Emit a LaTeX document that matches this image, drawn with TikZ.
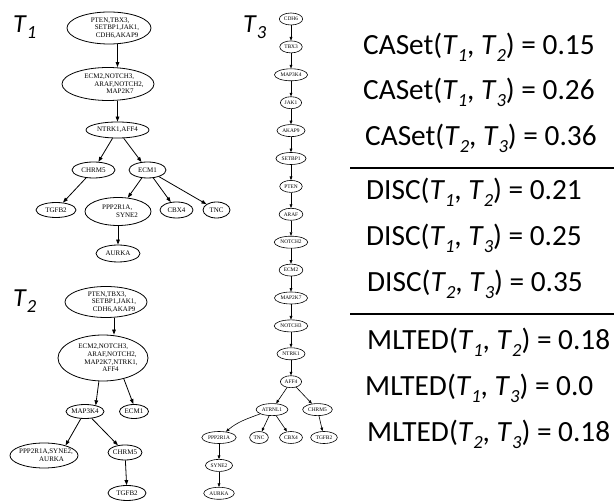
\documentclass[tikz,border=0pt]{standalone}
\usepackage{fontspec}
\setmainfont{Carlito}
\newfontfamily\treefont{Liberation Serif}
\usetikzlibrary{arrows.meta,shapes.geometric}
% italic tree name with a lowered italic index
\newcommand\Tn[1]{\textit{T}\raisebox{-0.22em}{\fontsize{18.5}{18.5}\selectfont\textit{#1}}}
\begin{document}
\begin{tikzpicture}[x=1pt,y=-1pt,
  gv/.style={ellipse,draw,line width=0.8pt,inner sep=0pt},
  ml/.style={align=left,inner sep=0pt,font=\treefont\fontsize{7}{7.6}\selectfont},
  sn/.style={ellipse,draw,line width=0.6pt,inner sep=1.2pt,minimum height=12pt,
             font=\treefont\fontsize{5.4}{5.4}\selectfont},
  ar/.style={-{Triangle[length=5pt,width=3.6pt]},line width=0.8pt},
  sar/.style={-{Triangle[length=3.6pt,width=2.8pt]},line width=0.6pt},
  tname/.style={anchor=base west,inner sep=0pt,font=\fontsize{26}{26}\selectfont},
  mt/.style={anchor=base west,inner sep=0pt,font=\fontsize{29.3}{29.3}\selectfont},
  rule/.style={line width=1.4pt}]
\useasboundingbox (0,0) rectangle (614,502);

% ---------------- tree T1 ----------------
\node[tname] (l1) at (13,33) {\Tn{1}};
\node[gv,minimum width=84,minimum height=32,
  label={[ml,xshift=6]center:{PTEN,TBX3,\\\hspace*{4pt}SETBP1,JAK1,\\\hspace*{5pt}CDH6,AKAP9}}] (r1) at (109,28) {};
\node[gv,minimum width=92,minimum height=33,
  label={[ml,xshift=6]center:{ECM2,NOTCH3,\\\hspace*{10pt}ARAF,NOTCH2,\\\hspace*{22pt}MAP2K7}}] (e1) at (108,84) {};
\node[gv,minimum width=63,minimum height=16,label={[ml]center:NTRK1,AFF4}] (n1) at (117.5,130) {};
\node[gv,minimum width=43,minimum height=16,label={[ml]center:CHRM5}] (c1) at (93.5,170) {};
\node[gv,minimum width=37,minimum height=16,label={[ml]center:ECM1}] (m1) at (147.5,170) {};
\node[gv,minimum width=40,minimum height=15,label={[ml]center:TGFB2}] (t1) at (56,210) {};
\node[gv,minimum width=66,minimum height=28,
  label={[ml,xshift=2]center:{PPP2R1A,\\\hspace*{14pt}SYNE2}}] (p1) at (118,211.5) {};
\node[gv,minimum width=33,minimum height=16,label={[ml]center:CBX4}] (b1) at (176.5,210) {};
\node[gv,minimum width=27,minimum height=16,label={[ml]center:TNC}] (x1) at (216.5,210) {};
\node[gv,minimum width=44,minimum height=17,label={[ml]center:AURKA}] (a1) at (118,253.5) {};

\draw[ar] (r1.south -| n1) -- (e1.north -| n1);
\draw[ar] (e1.south -| n1) -- (n1.north);
\draw[ar] (n1) -- (c1);
\draw[ar] (n1) -- (m1);
\draw[ar] (c1) -- (t1);
\draw[ar] (m1) -- (p1);
\draw[ar] (m1) -- (b1);
\draw[ar] (m1) -- (x1);
\draw[ar] (p1) -- (a1);

% ---------------- tree T2 ----------------
\node[tname] (l2) at (13,307) {\Tn{2}};
\node[gv,minimum width=82,minimum height=31,
  label={[ml,xshift=6]center:{PTEN,TBX3,\\\hspace*{4pt}SETBP1,JAK1,\\\hspace*{5pt}CDH6,AKAP9}}] (r2) at (106,302) {};
\node[gv,minimum width=90,minimum height=46,
  label={[ml,xshift=5]center:{ECM2,NOTCH3,\\\hspace*{9pt}ARAF,NOTCH2,\\\hspace*{6pt}MAP2K7,NTRK1,\\\hspace*{24pt}AFF4}}] (e2) at (103,358) {};
\node[gv,minimum width=38,minimum height=14,label={[ml]center:MAP3K4}] (m3) at (85,411.5) {};
\node[gv,minimum width=29,minimum height=14,label={[ml]center:ECM1}] (ec2) at (134,411.5) {};
\node[gv,minimum width=68,minimum height=25,
  label={[ml,xshift=2]center:{PPP2R1A,SYNE2,\\\hspace*{20pt}AURKA}}] (p2) at (44,455.5) {};
\node[gv,minimum width=34,minimum height=15,label={[ml]center:CHRM5}] (c2) at (125,452.5) {};
\node[gv,minimum width=38,minimum height=15,label={[ml]center:TGFB2}] (t2) at (127,493) {};

\draw[ar] ([xshift=8]r2.south) -- ([xshift=11]e2.north);
\draw[ar] (e2.-100) -- (m3.30);
\draw[ar] (e2.-45) -- (ec2.95);
\draw[ar] (m3.-120) -- (p2.25);
\draw[ar] (m3) -- (c2);
\draw[ar] (c2) -- (t2);

% ---------------- tree T3 ----------------
\node[tname] (l3) at (243,33) {\Tn{3}};
\foreach \nm/\lb [count=\i from 0] in {s0/CDH6,s1/TBX3,s2/MAP3K4,s3/JAK1,s4/AKAP9,
    s5/SETBP1,s6/PTEN,s7/ARAF,s8/NOTCH2,s9/ECM2,s10/MAP2K7,s11/NOTCH3,s12/NTRK1,s13/AFF4}
  \node[sn] (\nm) at (291,19+27.9*\i) {\lb};
\foreach \i [evaluate=\i as \j using int(\i+1)] in {0,...,12}
  \draw[sar] (s\i) -- (s\j);
\node[sn] (at) at (272,409.6) {ATRNL1};
\node[sn] (ch3) at (317.5,409.6) {CHRM5};
\node[sn] (pp3) at (219,437.5) {PPP2R1A};
\node[sn] (tn3) at (259,437.5) {TNC};
\node[sn] (cb3) at (291,437.5) {CBX4};
\node[sn] (tg3) at (324,437.5) {TGFB2};
\node[sn] (sy3) at (219,465.4) {SYNE2};
\node[sn] (au3) at (219,493.3) {AURKA};
\draw[sar] (s13) -- (at);
\draw[sar] (s13) -- (ch3);
\draw[sar] (at) to[out=-160,in=40] (pp3);
\draw[sar] (at) -- (tn3);
\draw[sar] (at) -- (cb3);
\draw[sar] (ch3) -- (tg3);
\draw[sar] (pp3) -- (sy3);
\draw[sar] (sy3) -- (au3);

% ---------------- distances ----------------
\node[mt] (d1) at (363,55) {CASet(\Tn{1}, \Tn{2}) = 0.15};
\node[mt] (d2) at (363,100) {CASet(\Tn{1}, \Tn{3}) = 0.26};
\node[mt] (d3) at (365,146) {CASet(\Tn{2}, \Tn{3}) = 0.36};
\coordinate (h1a) at (350,168);
\coordinate (h1b) at (614,168);
\draw[rule] (h1a) -- (h1b);
\node[mt] (d4) at (366,200) {DISC(\Tn{1}, \Tn{2}) = 0.21};
\node[mt] (d5) at (366,246) {DISC(\Tn{1}, \Tn{3}) = 0.25};
\node[mt] (d6) at (367,292) {DISC(\Tn{2}, \Tn{3}) = 0.35};
\coordinate (h2a) at (350,314);
\coordinate (h2b) at (614,314);
\draw[rule] (h2a) -- (h2b);
\node[mt] (d7) at (367,350) {MLTED(\Tn{1}, \Tn{2}) = 0.18};
\node[mt] (d8) at (365,396) {MLTED(\Tn{1}, \Tn{3}) = 0.0};
\node[mt] (d9) at (367,442) {MLTED(\Tn{2}, \Tn{3}) = 0.18};
\end{tikzpicture}
\end{document}
